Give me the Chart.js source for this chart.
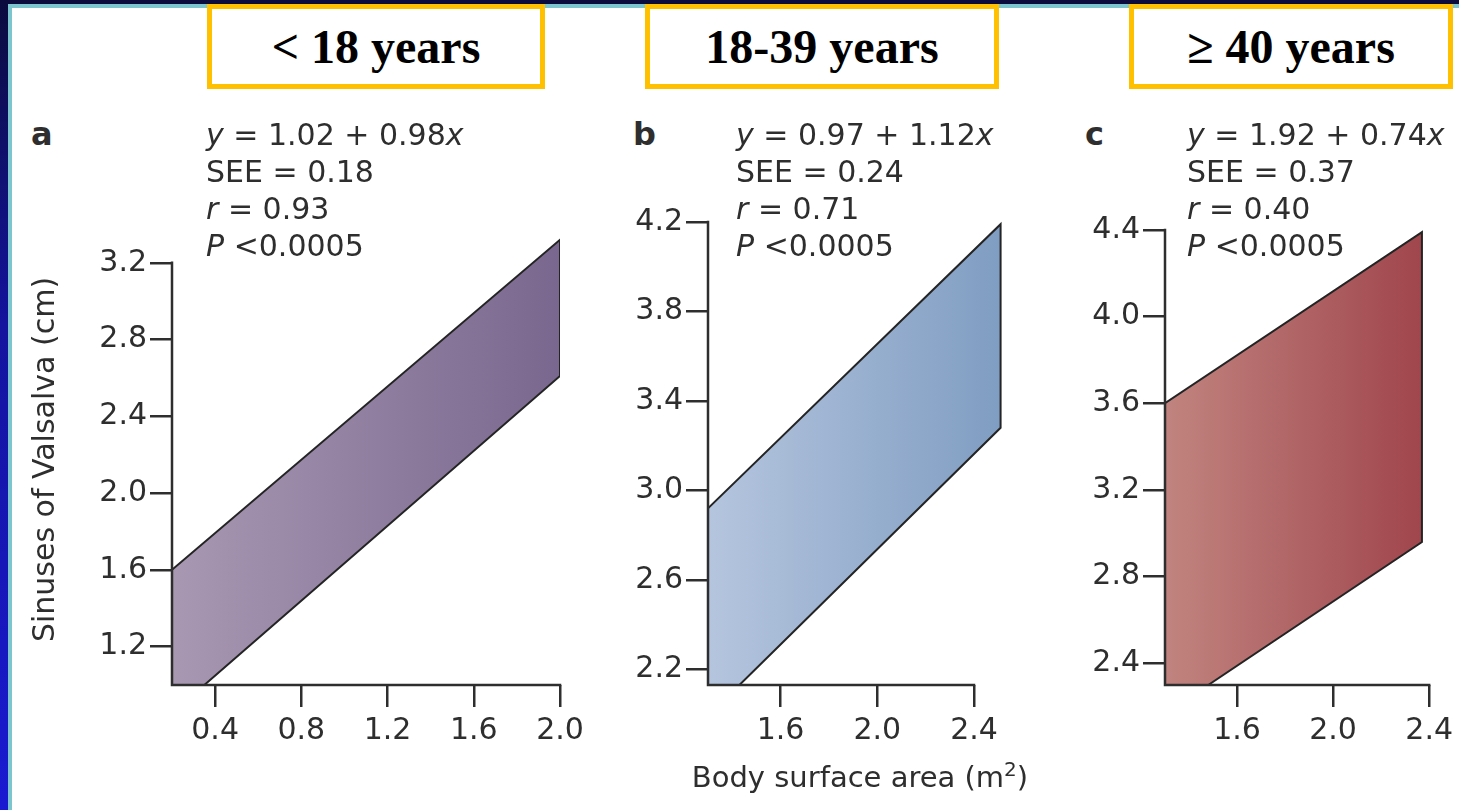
<!DOCTYPE html>
<html>
<head>
<meta charset="utf-8">
<script src="https://cdn.jsdelivr.net/npm/chart.js@4.4.1/dist/chart.umd.min.js"></script>
<style>
    body { margin: 0; width: 1459px; height: 810px; overflow: hidden; background: #fff; position: relative; font-family: "DejaVu Sans", sans-serif; }
    .frame { position: absolute; }
    #topbar { left: 0; top: 0; width: 1459px; height: 4px; background: #0b0b3e; }
    #topline { left: 8px; top: 4px; width: 1451px; height: 4px; background: #7cc5cf; }
    #leftbar { left: 0; top: 0; width: 8px; height: 810px; background: linear-gradient(#0b0b3e 0%, #14149e 40%, #1a1ad2 100%); }
    #leftline { left: 8px; top: 4px; width: 4px; height: 806px; background: #7cc5cf; }
    .box { position: absolute; top: 4px; height: 85px; box-sizing: border-box; border: 5px solid #ffc000; background: #fff;
           display: flex; align-items: center; justify-content: center; font: bold 48px "Liberation Serif", serif; color: #000; }
    .letter { position: absolute; top: 118px; font: bold 32px/32px "DejaVu Sans", sans-serif; color: #2e2e2e; }
    .eq { position: absolute; top: 116px; font: 30px/37px "DejaVu Sans", sans-serif; color: #2e2e2e; white-space: nowrap; }
    .xtitle { position: absolute; left: 660px; top: 760px; width: 400px; text-align: center; font: 29px/35px "DejaVu Sans", sans-serif; color: #2e2e2e; }
    canvas { position: absolute; }
</style>
</head>
<body>
<div class="frame" id="topbar"></div>
<div class="frame" id="leftbar"></div>
<div class="frame" id="topline"></div>
<div class="frame" id="leftline"></div>

<div class="box" style="left:207px;width:338px">&lt; 18 years</div>
<div class="box" style="left:645px;width:354px">18-39 years</div>
<div class="box" style="left:1129px;width:324px">&ge; 40 years</div>

<canvas id="chartA" width="570" height="620" style="left:20px;top:180px"></canvas>
<canvas id="chartB" width="433" height="620" style="left:600px;top:180px"></canvas>
<canvas id="chartC" width="399" height="620" style="left:1060px;top:180px"></canvas>

<div class="letter" style="left:31px">a</div>
<div class="letter" style="left:633px">b</div>
<div class="letter" style="left:1085px">c</div>

<div class="eq" style="left:206px"><i>y</i> = 1.02 + 0.98<i>x</i><br>SEE = 0.18<br><i>r</i> = 0.93<br><i>P</i> &lt;0.0005</div>
<div class="eq" style="left:736px"><i>y</i> = 0.97 + 1.12<i>x</i><br>SEE = 0.24<br><i>r</i> = 0.71<br><i>P</i> &lt;0.0005</div>
<div class="eq" style="left:1187px"><i>y</i> = 1.92 + 0.74<i>x</i><br>SEE = 0.37<br><i>r</i> = 0.40<br><i>P</i> &lt;0.0005</div>

<div class="xtitle">Body surface area (m<sup style="font-size:20px;line-height:0">2</sup>)</div>

<script>
// Band outlines (polygon corners), body surface area vs sinus diameter
const bandAX = [0.2, 0.2, 2.0, 2.0, 0.35];
const bandAY = [1.0, 1.6, 3.32, 2.61, 1.0];
const bandBX = [1.3, 1.3, 2.51, 2.51, 1.43];
const bandBY = [2.13, 2.92, 4.19, 3.28, 2.13];
const bandCX = [1.3, 1.3, 2.37, 2.37, 1.48];
const bandCY = [2.3, 3.6, 4.39, 2.96, 2.3];

// Tick labels per panel
const xTicksA = [0.4, 0.8, 1.2, 1.6, 2.0];
const yTicksA = [1.2, 1.6, 2.0, 2.4, 2.8, 3.2];
const xTicksB = [1.6, 2.0, 2.4];
const yTicksB = [2.2, 2.6, 3.0, 3.4, 3.8, 4.2];
const xTicksC = [1.6, 2.0, 2.4];
const yTicksC = [2.4, 2.8, 3.2, 3.6, 4.0, 4.4];

const INK = '#2e2e2e';
Chart.defaults.font.family = '"DejaVu Sans", sans-serif';
Chart.defaults.color = INK;

// axis lines only run from the scale minimum to the last tick, like the original
const axisLines = {
    id: 'axisLines',
    afterDraw(chart, args, opts) {
        const { ctx, scales: { x, y } } = chart;
        const x0 = x.getPixelForValue(x.min);
        const x1 = x.getPixelForValue(opts.xEnd);
        const y0 = y.getPixelForValue(y.min);
        const y1 = y.getPixelForValue(opts.yEnd);
        ctx.save();
        ctx.strokeStyle = INK;
        ctx.lineWidth = 2.5;
        ctx.lineCap = 'square';
        ctx.beginPath();
        ctx.moveTo(x0, y1);
        ctx.lineTo(x0, y0);
        ctx.lineTo(x1, y0);
        ctx.stroke();
        ctx.restore();
    }
};

function bandGradient(context, c0, c1) {
    const { ctx, chartArea } = context.chart;
    if (!chartArea) return c1;
    const g = ctx.createLinearGradient(chartArea.left, 0, chartArea.right, 0);
    g.addColorStop(0, c0);
    g.addColorStop(1, c1);
    return g;
}

function makePanel(id, p) {
    const pts = p.bx.map((x, i) => ({ x: x, y: p.by[i] }));
    pts.push(pts[0]);

    return new Chart(document.getElementById(id), {
        type: 'scatter',
        data: {
            datasets: [{
                data: pts,
                showLine: true,
                fill: 'shape',
                pointRadius: 0,
                borderColor: '#242424',
                borderWidth: 2,
                borderJoinStyle: 'miter',
                backgroundColor: ctx => bandGradient(ctx, p.c0, p.c1)
            }]
        },
        options: {
            responsive: false,
            animation: false,
            events: [],
            layout: { padding: { left: 0, right: p.padR, top: p.padT, bottom: 0 } },
            plugins: {
                legend: { display: false },
                tooltip: { enabled: false },
                axisLines: { xEnd: p.xt[p.xt.length - 1], yEnd: p.yt[p.yt.length - 1] }
            },
            scales: {
                x: {
                    type: 'linear',
                    min: p.xMin,
                    max: p.xMax,
                    afterBuildTicks: s => { s.ticks = p.xt.map(v => ({ value: v })); },
                    afterFit: s => { s.height = 115; },
                    border: { display: false },
                    grid: { drawOnChartArea: false, color: INK, lineWidth: 2.5, tickLength: 22 },
                    ticks: { font: { size: 30 }, padding: 6, maxRotation: 0, callback: v => v.toFixed(1) }
                },
                y: {
                    type: 'linear',
                    min: p.yMin,
                    max: p.yMax,
                    afterBuildTicks: s => { s.ticks = p.yt.map(v => ({ value: v })); },
                    afterFit: s => { s.width = p.yW; },
                    border: { display: false },
                    grid: { drawOnChartArea: false, color: INK, lineWidth: 2.5, tickLength: 22 },
                    ticks: { font: { size: 30 }, padding: 3, callback: v => v.toFixed(1) },
                    title: {
                        display: !!p.yTitle,
                        text: p.yTitle || '',
                        font: { size: 30 },
                        padding: { top: 8, bottom: 0 }
                    }
                }
            }
        },
        plugins: [axisLines]
    });
}

makePanel('chartA', {
    bx: bandAX, by: bandAY, xt: xTicksA, yt: yTicksA,
    xMin: 0.2, xMax: 2.0, yMin: 1.0, yMax: 3.35,
    yW: 152, padR: 30, padT: 54,
    c0: '#a898b2', c1: '#7a678f',
    yTitle: 'Sinuses of Valsalva (cm)'
});

makePanel('chartB', {
    bx: bandBX, by: bandBY, xt: xTicksB, yt: yTicksB,
    xMin: 1.3, xMax: 2.52, yMin: 2.13, yMax: 4.222,
    yW: 108, padR: 30, padT: 37,
    c0: '#b5c5de', c1: '#7f9dc2'
});

makePanel('chartC', {
    bx: bandCX, by: bandCY, xt: xTicksC, yt: yTicksC,
    xMin: 1.3, xMax: 2.4, yMin: 2.3, yMax: 4.418,
    yW: 105, padR: 27, padT: 46,
    c0: '#c1847f', c1: '#9f444b'
});
</script>
</body>
</html>
